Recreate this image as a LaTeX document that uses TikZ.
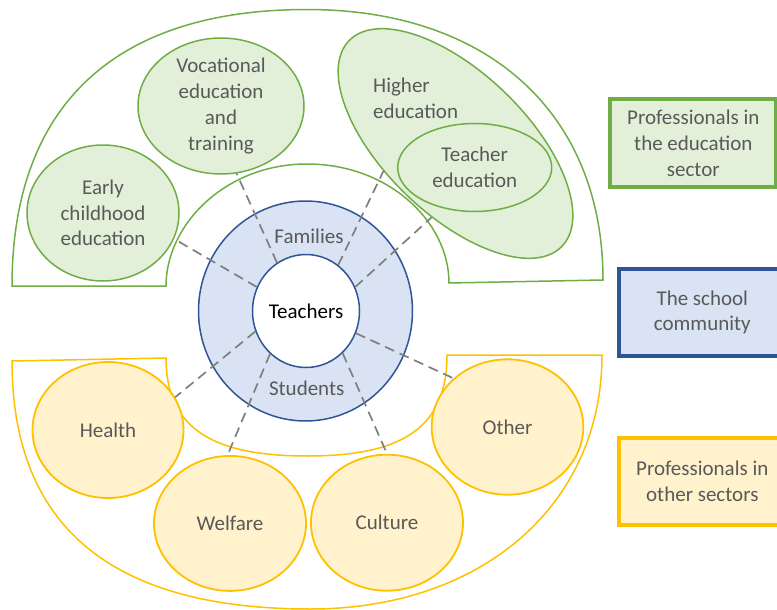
\documentclass[tikz,border=0pt]{standalone}
\usepackage{fontspec}
\setmainfont{Carlito}
\usetikzlibrary{shapes.geometric}
\definecolor{grn}{HTML}{70AD47}
\definecolor{grnfill}{HTML}{E2F0D9}
\definecolor{ylw}{HTML}{FFC000}
\definecolor{ylwfill}{HTML}{FFF2CC}
\definecolor{blu}{HTML}{2F5597}
\definecolor{blufill}{HTML}{DAE3F3}
\definecolor{txtgray}{HTML}{595959}
\definecolor{dashgray}{HTML}{7F7F7F}
\begin{document}
\begin{tikzpicture}[x=1pt,y=-1pt,
  every node/.style={font=\fontsize{21}{25.7}\selectfont},
  gell/.style={ellipse, draw=grn, fill=grnfill, line width=1.5pt, inner sep=0pt, text=txtgray, align=center},
  yell/.style={ellipse, draw=ylw, fill=ylwfill, line width=1.8pt, inner sep=0pt, text=txtgray, align=center},
  txt/.style={text=txtgray, align=center, inner sep=0pt},
  conn/.style={draw=dashgray, line width=1.7pt, dash pattern=on 10pt off 6pt},
  legbox/.style={rectangle, line width=4pt, text=txtgray, align=center, inner sep=0pt, minimum width=166pt},
  sectg/.style={draw=grn, line width=1.5pt},
  secty/.style={draw=ylw, line width=1.5pt}]
\useasboundingbox (0,0) rectangle (777,610);

% sector outlines
\draw[sectg] (12,286) .. controls (12,110) and (110,9.5) .. (307,9.5)
  .. controls (490,9.5) and (603,115) .. (603,280)
  -- (449,283) .. controls (449,222) and (389,164) .. (307,164)
  .. controls (225,164) and (166,225) .. (166,286) -- cycle;
\draw[secty] (12,361) .. controls (12,527) and (112,609) .. (310,609)
  .. controls (482,609) and (602,505) .. (602,355)
  -- (447,355) .. controls (447,430) and (399,456) .. (307,456)
  .. controls (215,456) and (166,430) .. (166,358) -- cycle;

% school community
\node[ellipse, draw=blu, fill=blufill, line width=1.5pt, minimum width=214pt, minimum height=220pt, inner sep=0pt] (ring) at (305.5,311) {};
\node[ellipse, draw=blu, fill=white, line width=1.5pt, minimum width=107pt, minimum height=113pt, inner sep=0pt] (teachers) at (306,311) {Teachers};
\node[txt] (families) at (309,236.7) {Families};
\node[txt] (students) at (306.7,388) {Students};

% education sector
\node[gell, minimum width=152pt, minimum height=136pt] (ece) at (103,213) {Early\\childhood\\education};
\node[gell, minimum width=166pt, minimum height=136pt] (voc) at (221,106) {};
\node[txt] (voctext) at (voc) {Vocational\\education\\and\\training};
\node[gell, rotate=-44, minimum width=296pt, minimum height=142pt] (he) at (455.5,143.5) {};
\node[txt, align=left, anchor=west] (hetext) at (373,98) {Higher\\education};
\node[gell, minimum width=154pt, minimum height=88pt] (te) at (474.7,167.5) {Teacher\\education};

% other sectors
\node[yell, minimum width=151pt, minimum height=136pt] (health) at (108,430) {Health};
\node[yell, minimum width=152pt, minimum height=135pt] (welfare) at (230,523.4) {Welfare};
\node[yell, minimum width=152pt, minimum height=136pt] (culture) at (387,522.7) {Culture};
\node[yell, minimum width=151.6pt, minimum height=135.4pt] (other) at (507.5,427) {Other};

% connectors
\draw[conn] (teachers.154.4) -- (ece.340.3);
\draw[conn] (teachers.121.9) -- (voc.283.6);
\draw[conn] (teachers.55.7) -- (he.245.3);
\draw[conn] (teachers.26.1) -- (he.296.3);
\draw[conn] (teachers.202.4) -- (health.26.9);
\draw[conn] (teachers.230.7) -- (welfare.92.5);
\draw[conn] (teachers.311.1) -- (culture.90.3);
\draw[conn] (teachers.336.9) -- (other.138.1);

% legend
\node[legbox, draw=grn, fill=grnfill, minimum height=88pt] (lgedu) at (693.3,143.3) {Professionals in\\the education\\sector};
\node[legbox, draw=blu, fill=blufill, minimum height=87.6pt] (lgschool) at (702.3,312.5) {The school\\community};
\node[legbox, draw=ylw, fill=ylwfill, minimum height=87pt] (lgother) at (702.3,481.2) {Professionals in\\other sectors};
\end{tikzpicture}
\end{document}
